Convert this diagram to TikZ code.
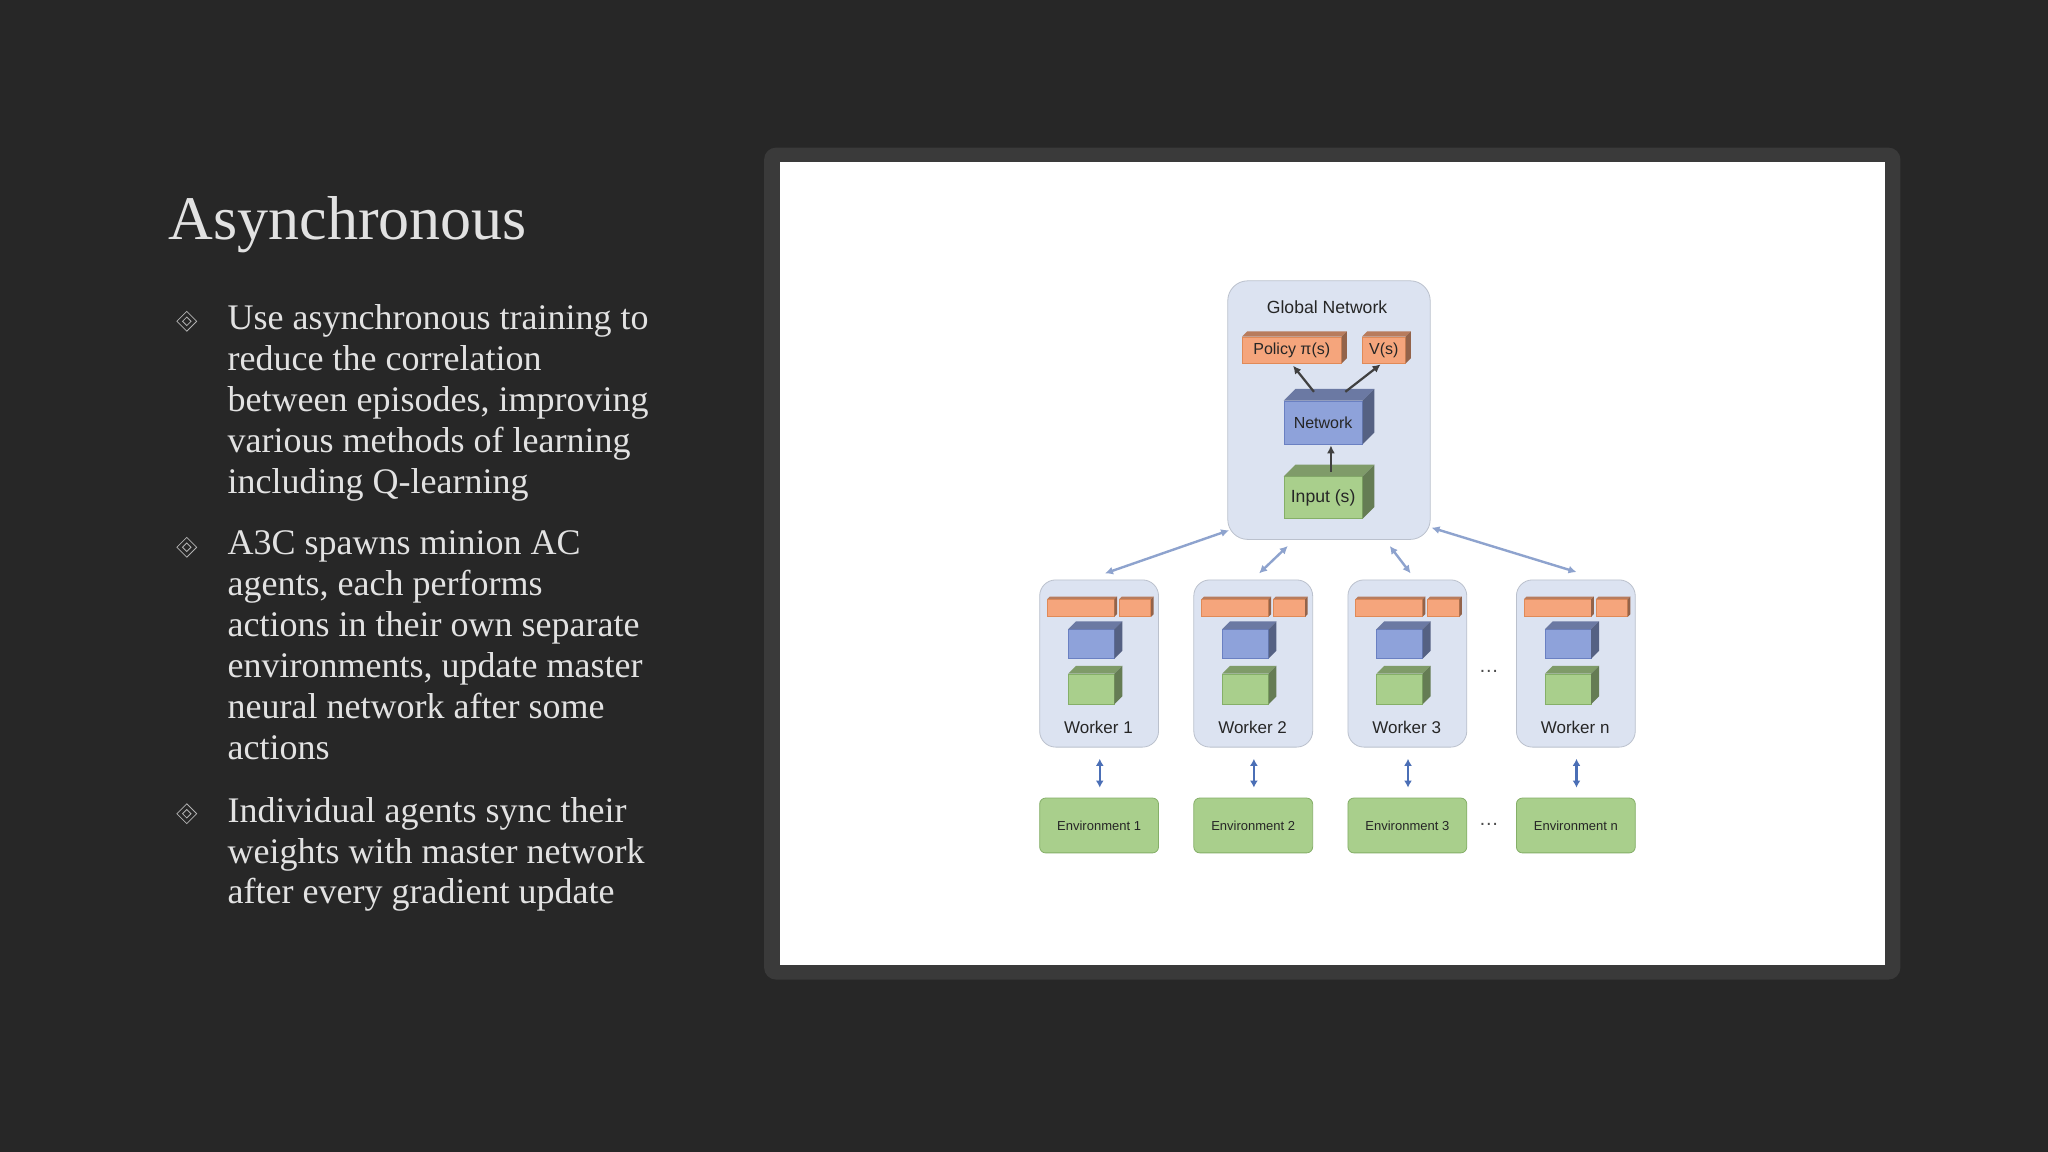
\documentclass[tikz,border=0pt]{standalone}
\usepackage{fontspec}
\setmainfont{Liberation Serif}
\setsansfont{Liberation Sans}
\usetikzlibrary{fit,arrows.meta}
\definecolor{bg}{HTML}{272727}
\definecolor{txt}{HTML}{E2E2E2}
\definecolor{frame}{HTML}{3A3A3A}
\definecolor{gbg}{HTML}{DCE3F1}
\definecolor{orf}{HTML}{F5A57C}
\definecolor{orb}{HTML}{E08A58}
\definecolor{blf}{HTML}{8EA2DA}
\definecolor{blb}{HTML}{6A80C2}
\definecolor{grf}{HTML}{A9CF8C}
\definecolor{grb}{HTML}{85AF68}
\definecolor{arr}{HTML}{8EA3CE}
\definecolor{darr}{HTML}{4B6FB6}
\newcommand\cubeparts[3]{%
 \fill[#2!75!black] (#1.north west) -- ++(#3,-#3) -- ([shift={(#3,-#3)}]#1.north east) -- (#1.north east) -- cycle;
 \fill[#2!60!black] (#1.north east) -- ++(#3,-#3) -- ([shift={(#3,-#3)}]#1.south east) -- (#1.south east) -- cycle;}
\tikzset{
 face/.style={inner sep=0pt, font=\sffamily\fontsize{8}{9}\selectfont, text=black!85},
 orbox/.style={face, fill=orf, draw=orb, line width=0.3pt},
 blbox/.style={face, fill=blf, draw=blb, line width=0.3pt},
 grbox/.style={face, fill=grf, draw=grb, line width=0.3pt},
 panel/.style={inner sep=0pt, fill=gbg, draw=gbg!85!black, line width=0.4pt, rounded corners=10pt},
 envbox/.style={inner sep=0pt, fill=grf, draw=grb, rounded corners=3pt},
 bul/.style={text=txt, font=\fontsize{18}{20.45}\selectfont, align=left, anchor=north west, inner sep=0pt},
 gl/.style={arr, line width=1.2pt, {Latex[length=4pt,width=4pt]}-{Latex[length=4pt,width=4pt]}},
 dl/.style={darr, line width=1.2pt, {Latex[length=3.5pt,width=4pt]}-{Latex[length=3.5pt,width=4pt]}},
 il/.style={black!75, line width=1.1pt, -{Latex[length=4pt,width=4pt]}},
}
\begin{document}
\begin{tikzpicture}[x=0.653pt,y=-0.653pt]
\fill[bg] (0,0) rectangle (1568,882);
\useasboundingbox (0,0) rectangle (1568,882);
% title and bullets
\node[text=txt, anchor=west, inner sep=0pt, font=\fontsize{31}{34}\selectfont] (title) at (129,172) {Asynchronous};
\foreach \yy/\nm in {246/d1,419/d2,623/d3}{
 \node[draw=gray!60, rotate=45, minimum size=7pt, inner sep=0pt, line width=0.4pt] (\nm) at (143,\yy) {};
 \node[draw=gray!60, rotate=45, minimum size=3pt, inner sep=0pt, line width=0.4pt] (\nm i) at (143,\yy) {};}
\node[bul] (b1) at (174,233) {Use asynchronous training to\\reduce the correlation\\between episodes, improving\\various methods of learning\\including Q-learning};
\node[bul] (b2) at (174,406) {A3C spawns minion AC\\agents, each performs\\actions in their own separate\\environments, update master\\neural network after some\\actions};
\node[bul] (b3) at (174,610) {Individual agents sync their\\weights with master network\\after every gradient update};
% frame
\fill[frame, rounded corners=6pt] (585,113) rectangle (1455,750);
\fill[white] (597,124) rectangle (1443,739);
% global network
\node[panel, fit={(940,215)(1095,413)}] (glob) {};
\node[font=\sffamily\fontsize{8.8}{10}\selectfont, text=black!85] (gt) at (1016,235) {Global Network};
\node[orbox, fit={(951,258)(1027,278)}] (pol) {}; \cubeparts{pol}{orf}{4}
\node[face] at (pol) {Policy π(s)};
\node[orbox, fit={(1043,258)(1076,278)}] (val) {}; \cubeparts{val}{orf}{4}
\node[face] at (val) {V(s)};
\node[blbox, fit={(983,307)(1043,340)}] (net) {}; \cubeparts{net}{blf}{9}
\node[face] at (net) {Network};
\node[grbox, fit={(983,365)(1043,397)}] (inp) {}; \cubeparts{inp}{grf}{9}
\node[face, font=\sffamily\fontsize{8.8}{10}\selectfont] at (inp) {Input (s)};
\coordinate (i1) at (1019,361); \coordinate (n0) at (1019,341);
\coordinate (n1) at (1006,300); \coordinate (p1) at (990,280);
\coordinate (n2) at (1030,300); \coordinate (v1) at (1057,279);
\draw[il] (i1) -- (n0);
\draw[il] (n1) -- (p1);
\draw[il] (n2) -- (v1);
% workers
\foreach \x/\lab/\nm in {796/1/w1,914/2/w2,1032/3/w3,1161/n/w4}{
 \node[panel, rounded corners=8pt, fit={(\x,444)(\x+91,572)}] (\nm) {};
 \node[orbox, fit={(\x+6,459)(\x+57,472)}] (\nm a) {}; \cubeparts{\nm a}{orf}{2}
 \node[orbox, fit={(\x+61,459)(\x+85,472)}] (\nm b) {}; \cubeparts{\nm b}{orf}{2}
 \node[blbox, fit={(\x+22,482)(\x+57,504)}] (\nm c) {}; \cubeparts{\nm c}{blf}{6}
 \node[grbox, fit={(\x+22,516)(\x+57,539)}] (\nm d) {}; \cubeparts{\nm d}{grf}{6}
 \node[font=\sffamily\fontsize{8.5}{10}\selectfont, text=black!85] (\nm t) at (\x+45,557) {Worker \lab};
 \node[envbox, fit={(\x,611)(\x+91,653)}] (\nm e) {};
 \node[font=\sffamily\fontsize{6.5}{8}\selectfont, text=black!85] (\nm et) at (\nm e) {Environment \lab};
 \coordinate (\nm u) at (\x+46,581); \coordinate (\nm v) at (\x+46,603);
 \draw[dl] (\nm u) -- (\nm v);
}
\node[text=black!70, font=\sffamily\fontsize{10}{10}\selectfont] (dots1) at (1140,514) {\dots};
\node[text=black!70, font=\sffamily\fontsize{10}{10}\selectfont] (dots2) at (1140,631) {\dots};
\coordinate (g1) at (941,406); \coordinate (k1) at (846,439);
\coordinate (g2) at (986,418); \coordinate (k2) at (964,439);
\coordinate (g3) at (1064,418); \coordinate (k3) at (1080,439);
\coordinate (g4) at (1096,404); \coordinate (k4) at (1207,438);
\draw[gl] (g1) -- (k1);
\draw[gl] (g2) -- (k2);
\draw[gl] (g3) -- (k3);
\draw[gl] (g4) -- (k4);
\end{tikzpicture}
\end{document}
